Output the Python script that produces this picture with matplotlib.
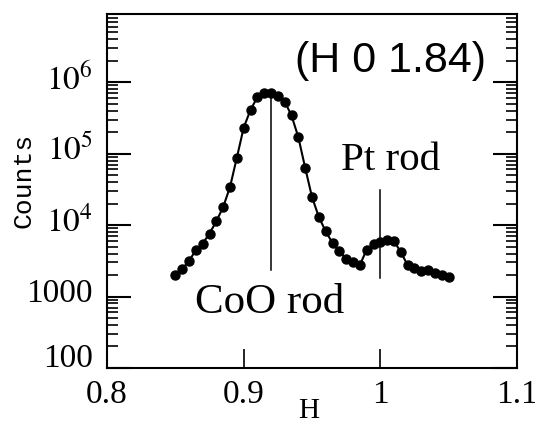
import numpy as np
import matplotlib
matplotlib.use("Agg")
import matplotlib.pyplot as plt
import matplotlib.transforms as mtransforms
from matplotlib.ticker import LogLocator, FixedLocator, NullFormatter

plt.rcParams['mathtext.fontset'] = 'stix'

H = [0.850, 0.855, 0.860, 0.865, 0.870, 0.875, 0.880, 0.885, 0.890, 0.895,
     0.900, 0.905, 0.910, 0.915, 0.920, 0.925, 0.930, 0.935, 0.940, 0.945,
     0.950, 0.955, 0.960, 0.965, 0.970, 0.975, 0.980, 0.985, 0.990, 0.995,
     1.000, 1.005, 1.010, 1.015, 1.020, 1.025, 1.030, 1.035, 1.040, 1.045, 1.050]
counts = [1990, 2415, 3155, 4450, 5520, 7620, 11300, 17900, 34100, 87700,
          230000, 410000, 615000, 709000, 709000, 650000, 536000, 342000, 170000, 63500,
          24700, 13000, 8180, 5620, 4300, 3400, 3070, 2745, 4550, 5400,
          5750, 6140, 6000, 4170, 2750, 2470, 2285, 2340, 2145, 1990, 1865]

rod_positions = [0.92, 1.0]
rod_line_lo = [2340, 1790]
rod_line_hi = [650000, 31300]

xticks = [0.8, 0.9, 1.0, 1.1]
xticklabels = ['0.8', '0.9', '1', '1.1']
yticks = [100, 1000, 1e4, 1e5, 1e6]
yticklabels = ['100', '1000', r'$10^4$', r'$10^5$', r'$10^6$']

fig = plt.figure(figsize=(5.35, 4.25), dpi=100)
ax = fig.add_axes([107/535, (425-368)/425, 410/535, 354/425])

ax.plot(H, counts, '-', color='black', lw=1.5, marker='o', ms=6.5, mfc='black', mec='black')
for xp, lo, hi in zip(rod_positions, rod_line_lo, rod_line_hi):
    ax.plot([xp, xp], [lo, hi], color='black', lw=1.1)

ax.set_yscale('log')
ax.set_xlim(0.8, 1.1)
ax.set_ylim(100, 9e6)

ax.set_xticks(xticks)
ax.set_xticklabels(xticklabels, fontfamily='Liberation Serif', fontsize=24)
ax.yaxis.set_major_locator(FixedLocator(yticks))
ax.set_yticklabels(yticklabels, fontfamily='Liberation Serif', fontsize=24)
ax.yaxis.set_minor_locator(LogLocator(base=10, subs=np.arange(2, 10)))
ax.yaxis.set_minor_formatter(NullFormatter())
ax.xaxis.set_minor_locator(FixedLocator([]))

ax.tick_params(axis='y', which='major', direction='in', length=17, width=1.5, left=True, right=True, pad=10)
ax.tick_params(axis='y', which='minor', direction='in', length=8, width=1.2, left=True, right=True)
ax.tick_params(axis='x', which='major', direction='in', length=14, width=1.2, top=False, pad=8)
for s in ax.spines.values():
    s.set_linewidth(1.5)

# shift y tick labels slightly upward, the lowest one sits on its tick
for i, lab in enumerate(ax.get_yticklabels()):
    if i == 0:
        lab.set_verticalalignment('baseline')
        lab.set_transform(lab.get_transform() + mtransforms.ScaledTranslation(0, 1/100, fig.dpi_scale_trans))
    else:
        lab.set_transform(lab.get_transform() + mtransforms.ScaledTranslation(0, 6/100, fig.dpi_scale_trans))

ax.set_xlabel('H', fontfamily='Liberation Serif', fontsize=21)
ax.xaxis.set_label_coords(0.493, -0.085)
ax.set_ylabel('Counts', fontfamily='Liberation Mono', fontsize=19)
ax.yaxis.set_label_coords(-0.175, 0.531)

ax.text(0.4585, 0.836, '(H 0 1.84)', transform=ax.transAxes, fontfamily='Liberation Sans',
        fontsize=31, ha='left', va='baseline')
ax.text(0.2146, 0.155, 'CoO rod', transform=ax.transAxes, fontfamily='Liberation Serif',
        fontsize=31, ha='left', va='baseline')
ax.text(0.570, 0.559, 'Pt rod', transform=ax.transAxes, fontfamily='Liberation Serif',
        fontsize=29.5, ha='left', va='baseline')

fig.savefig('out.png', dpi=100)
